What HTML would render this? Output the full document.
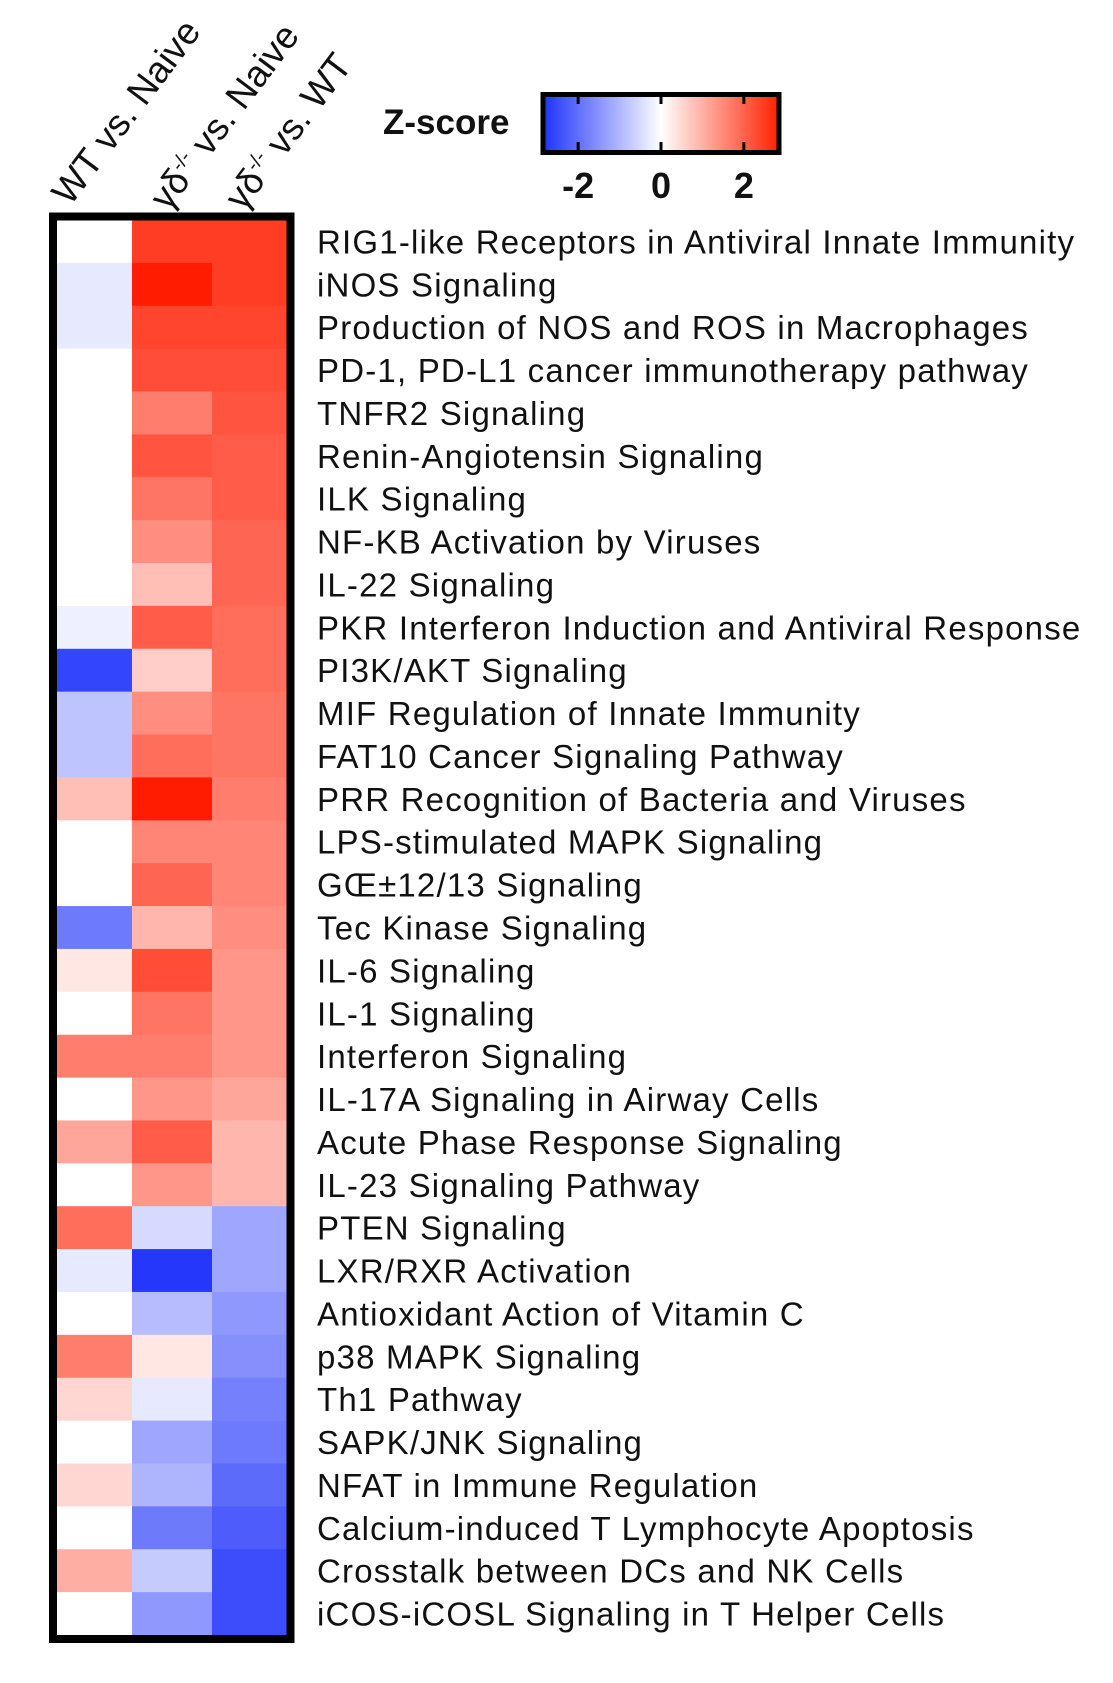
<!DOCTYPE html>
<html><head><meta charset="utf-8"><style>
html,body{margin:0;padding:0;background:#fff;}
svg{display:block;font-family:"Liberation Sans",Arial,sans-serif;}
</style></head><body>
<svg id="chart" width="1113" height="1683" viewBox="0 0 1113 1683">
<defs>
<linearGradient id="zgrad" x1="0" x2="1" y1="0" y2="0">
<stop offset="0" stop-color="#1e32fa"/>
<stop offset="0.5" stop-color="#ffffff"/>
<stop offset="1" stop-color="#ff2000"/>
</linearGradient>
</defs>
<g id="headers"></g>
<g id="cells"></g>
<g id="labels"></g>
<g id="legend"></g>
</svg>
<script>
const columns = ["WT vs. Naive", "γδ-/- vs. Naive", "γδ-/- vs. WT"];
const pathways = ["RIG1-like Receptors in Antiviral Innate Immunity","iNOS Signaling","Production of NOS and ROS in Macrophages","PD-1, PD-L1 cancer immunotherapy pathway","TNFR2 Signaling","Renin-Angiotensin Signaling","ILK Signaling","NF-KB Activation by Viruses","IL-22 Signaling","PKR Interferon Induction and Antiviral Response","PI3K/AKT Signaling","MIF Regulation of Innate Immunity","FAT10 Cancer Signaling Pathway","PRR Recognition of Bacteria and Viruses","LPS-stimulated MAPK Signaling","GŒ±12/13 Signaling","Tec Kinase Signaling","IL-6 Signaling","IL-1 Signaling","Interferon Signaling","IL-17A Signaling in Airway Cells","Acute Phase Response Signaling","IL-23 Signaling Pathway","PTEN Signaling","LXR/RXR Activation","Antioxidant Action of Vitamin C","p38 MAPK Signaling","Th1 Pathway","SAPK/JNK Signaling","NFAT in Immune Regulation","Calcium-induced T Lymphocyte Apoptosis","Crosstalk between DCs and NK Cells","iCOS-iCOSL Signaling in T Helper Cells"];
const wtVsNaive = [0,-0.3,-0.3,0,0,0,0,0,0,-0.2,-2.5,-0.8,-0.8,0.8,0,0,-1.8,0.3,0,1.6,0,1.1,0,1.8,-0.3,0,1.6,0.5,0,0.5,0,1.0,0];
const gdVsNaive = [2.4,2.8,2.3,2.2,1.6,2.1,1.7,1.4,0.8,2.0,0.6,1.4,1.8,2.8,1.5,1.9,0.9,2.2,1.7,1.6,1.3,2.0,1.3,-0.5,-2.7,-0.9,0.3,-0.3,-1.2,-1.0,-1.8,-0.7,-1.4];
const gdVsWT = [2.4,2.4,2.3,2.2,2.1,2.0,2.0,1.9,1.9,1.8,1.8,1.7,1.7,1.6,1.5,1.5,1.4,1.3,1.3,1.3,1.1,0.9,0.9,-1.2,-1.2,-1.4,-1.5,-1.7,-1.8,-2.0,-2.2,-2.4,-2.4];
const legendTicks = [-2, 0, 2];

const NS = "http://www.w3.org/2000/svg";
const svg = document.getElementById("chart");
const series = [wtVsNaive, gdVsNaive, gdVsWT];
const gridL = 57, gridT = 220, gridB = 1635;
const colEdges = [57, 132, 212, 287];
const rowH = (gridB - gridT) / pathways.length;
const zMax = 2.8;
function xCol(i){ return colEdges[i]; }
function yRow(i){ return gridT + i * rowH; }
function color(z){
  let t = Math.max(-1, Math.min(1, z / zMax));
  let a = Math.abs(t), end = t >= 0 ? [255,28,0] : [28,48,250];
  const c = end.map(v => Math.round(255 + (v - 255) * a));
  return "rgb(" + c.join(",") + ")";
}
function mk(tag, attrs, parent){
  const e = document.createElementNS(NS, tag);
  for (const k in attrs) e.setAttribute(k, attrs[k]);
  parent.appendChild(e);
  return e;
}
const cellsG = document.getElementById("cells");
series.forEach((vals, c) => {
  vals.forEach((v, r) => {
    const rc = mk("rect", {x: xCol(c), y: yRow(r), width: xCol(c+1) - xCol(c) + 0.5, height: rowH + 0.5, fill: color(v)}, cellsG);
    
    
  });
});
const frame = mk("rect", {x: 53, y: 216.5, width: 237.5, height: gridB - gridT + 7.5, fill: "none", stroke: "#000", "stroke-width": 8}, cellsG);



const labelsG = document.getElementById("labels");
pathways.forEach((p, r) => {
  const t = mk("text", {x: 317, y: yRow(r) + rowH/2 + 12, "font-size": 33, "letter-spacing": "1.2", fill: "#111"}, labelsG);
  t.textContent = p;
  
  
});

const headG = document.getElementById("headers");
const headPos = [[70,207],[168,212],[243,212]];
columns.forEach((c, i) => {
  const [hx, hy] = headPos[i];
  const t = mk("text", {x: hx, y: hy, "font-size": 37, fill: "#111", transform: "rotate(-53 " + hx + " " + hy + ")"}, headG);
  if (i === 0) { t.textContent = c; }
  else {
    const s1 = mk("tspan", {}, t); s1.textContent = "γδ";
    const s2 = mk("tspan", {"font-size": 20, dy: -14}, t); s2.textContent = "-/-";
    const s3 = mk("tspan", {dy: 14}, t); s3.textContent = c.replace("γδ-/-", "");
  }
  
  
});

const legG = document.getElementById("legend");
const lx0 = 545, lx1 = 777;
function xLeg(z){ return (lx0 + lx1)/2 + z / zMax * (lx1 - lx0) / 2; }
const zt = mk("text", {x: 383, y: 134, "font-size": 35, "font-weight": "bold", fill: "#111"}, legG);
zt.textContent = "Z-score";


const lb = mk("rect", {x: 543, y: 94.5, width: 236, height: 58, fill: "url(#zgrad)", stroke: "#000", "stroke-width": 5}, legG);


legendTicks.forEach(v => {
  const x = xLeg(v);
  const t1 = mk("line", {x1: x, x2: x, y1: 97, y2: 104, stroke: "#000", "stroke-width": 3}, legG);
  
  
  const t2 = mk("line", {x1: x, x2: x, y1: 142, y2: 150, stroke: "#000", "stroke-width": 3}, legG);
  
  
  const tl = mk("text", {x: x, y: 198, "font-size": 36, "font-weight": "bold", "text-anchor": "middle", fill: "#111"}, legG);
  tl.textContent = v;
  
  
});
</script>
</body></html>
